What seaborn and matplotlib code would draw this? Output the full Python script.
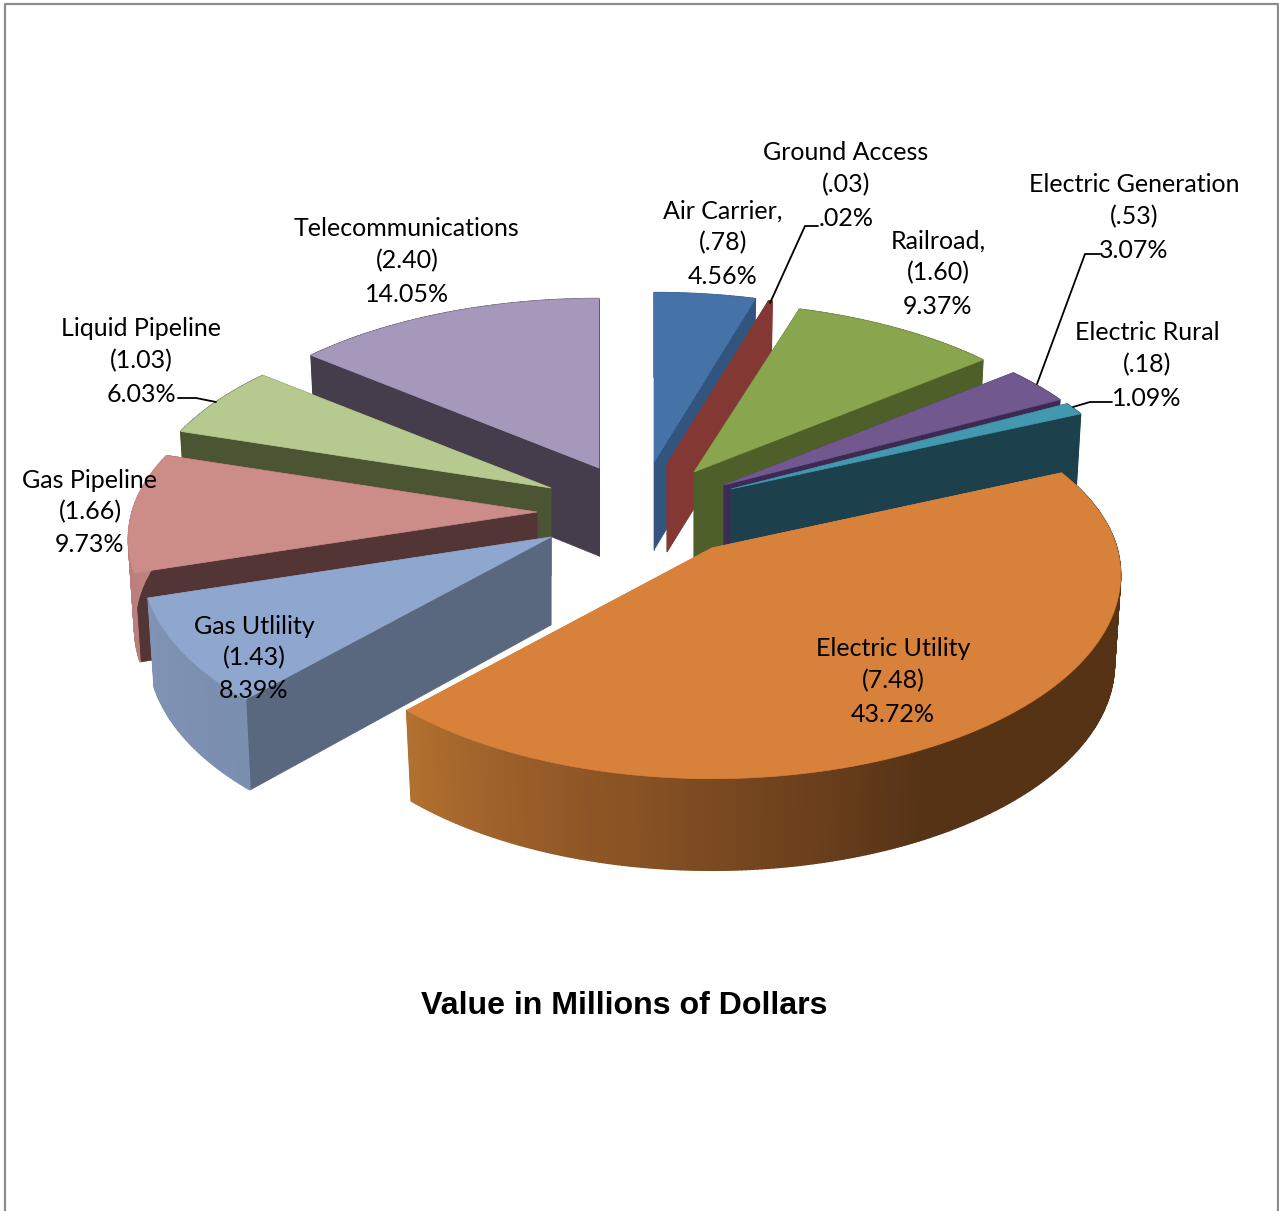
import numpy as np
import matplotlib
matplotlib.use("Agg")
import matplotlib.pyplot as plt
import seaborn as sns

sns.set_theme(style="white")
plt.rcParams["font.family"] = ["Lato", "DejaVu Sans"]

names = ["Air Carrier,", "Ground Access", "Railroad,", "Electric Generation", "Electric Rural",
         "Electric Utility", "Gas Utlility", "Gas Pipeline", "Liquid Pipeline", "Telecommunications"]
values = [0.78, 0.03, 1.60, 0.53, 0.18, 7.48, 1.43, 1.66, 1.03, 2.40]
value_labels = ["(.78)", "(.03)", "(1.60)", "(.53)", "(.18)", "(7.48)", "(1.43)", "(1.66)", "(1.03)", "(2.40)"]
pct_labels = ["4.56%", ".02%", "9.37%", "3.07%", "1.09%", "43.72%", "8.39%", "9.73%", "6.03%", "14.05%"]

top_colors = ["#4572A7", "#843833", "#89A54E", "#71588F", "#4198AF",
              "#D8813B", "#8FA7CE", "#CC8C88", "#B6CA90", "#A598BB"]
side_colors = ["#31557F", "#843833", "#4F5F2A", "#3C2A54", "#1C414C",
               "#D8813B", "#59677F", "#533535", "#4B5433", "#453D4B"]
# outer rim colours, from the clockwise end of the slice to its start
rim_colors = [["#31557F"], ["#843833"], ["#4F5F2A"], ["#3C2A54"], ["#1C414C"],
              ["#B0702F", "#9A5E29", "#855023", "#6E421D", "#573316",
               "#573316", "#573316", "#573316", "#573316", "#573316"],
              ["#8093B5", "#7A8EB0"], ["#C08582", "#B87C79"], ["#4B5433"], ["#453D4B"]]

# where each slice's tip ends up after exploding (pixels)
tips = [(654, 462), (667, 464), (694, 472), (724, 485), (731, 489),
        (712, 548), (551, 537), (537, 512), (551, 488), (599, 468)]
label_pos = [(723, 243), (846, 185), (938, 273), (1134, 217), (1147, 365),
             (893, 681), (254, 658), (90, 512), (141, 361), (407, 261)]
draw_order = [9, 0, 1, 2, 3, 4, 8, 7, 6, 5]

RX, RY_BACK, RY_FRONT, PERSP = 405, 192, 200, 0.133
DEPTH = 88
BOTTOM_SHRINK = 0.985  # base of the pie is a bit further from the eye

edges = np.concatenate([[0], np.cumsum(values)]) / sum(values) * 360


def project(theta):
    t = np.radians(theta)
    x, y = np.sin(t), np.cos(t)
    s = 1 / (1 + PERSP * y)
    ry = np.where(y > 0, RY_BACK, RY_FRONT)
    return x * RX * s, -y * ry * s, DEPTH / (1 + 0.04 * y)


fig = plt.figure(figsize=(12.79, 12.11), dpi=100)
ax = fig.add_axes([0, 0, 1, 1])
ax.set_xlim(0, 1279)
ax.set_ylim(1211, 0)
ax.axis("off")

for i in draw_order:
    tx, ty = tips[i]
    order = 1 + draw_order.index(i)
    angles = np.linspace(edges[i], edges[i + 1], max(int(edges[i + 1] - edges[i]) * 2, 2) + 1)
    dx, dy, dep = project(angles)
    px, py = tx + dx, ty + dy
    bx = tx + dx * BOTTOM_SHRINK

    # radial faces first, the rim and the top then cover what faces away
    for k in (0, -1):
        ax.fill([tx, px[k], bx[k], tx], [ty, py[k], py[k] + dep[k], ty + DEPTH],
                color=side_colors[i], lw=0.5, zorder=order)

    # rim
    n = len(angles) - 1
    pal = sns.blend_palette(rim_colors[i] * (2 if len(rim_colors[i]) == 1 else 1), n_colors=n)
    for j in range(n):
        ax.fill([px[j], px[j + 1], bx[j + 1], bx[j]],
                [py[j], py[j + 1], py[j + 1] + dep[j + 1], py[j] + dep[j]],
                color=pal[n - 1 - j], lw=1.0, zorder=order)

    ax.fill(np.r_[tx, px], np.r_[ty, py], color=top_colors[i], lw=0.5, zorder=order)

for name, val, pct, (lx, ly) in zip(names, value_labels, pct_labels, label_pos):
    ax.text(lx, ly - 32, name, ha="center", va="center", fontsize=18, color="black", zorder=20)
    ax.text(lx, ly, val, ha="center", va="center", fontsize=18, color="black", zorder=20)
    ax.text(lx, ly + 33, pct, ha="center", va="center", fontsize=18, color="black", zorder=20)

# leader lines
leaders = [([818, 805, 770], [226, 226, 303]),
           ([1100, 1085, 1037], [254, 254, 384]),
           ([1112, 1090, 1073], [402, 402, 407]),
           ([178, 196, 216], [398, 398, 402])]
for lx, ly in leaders:
    ax.plot(lx, ly, color="black", lw=1.3, zorder=15)

ax.text(624, 1006, "Value in Millions of Dollars", ha="center", va="center", fontsize=23.1,
        fontweight="bold", family="Liberation Sans", color="black")

# page frame, open at the bottom
ax.plot([4.5, 4.5, 1277.5, 1277.5], [1211, 4, 4, 1211], color="#8c8c8c", lw=1.6, zorder=30)

fig.savefig("out.png", dpi=100)
